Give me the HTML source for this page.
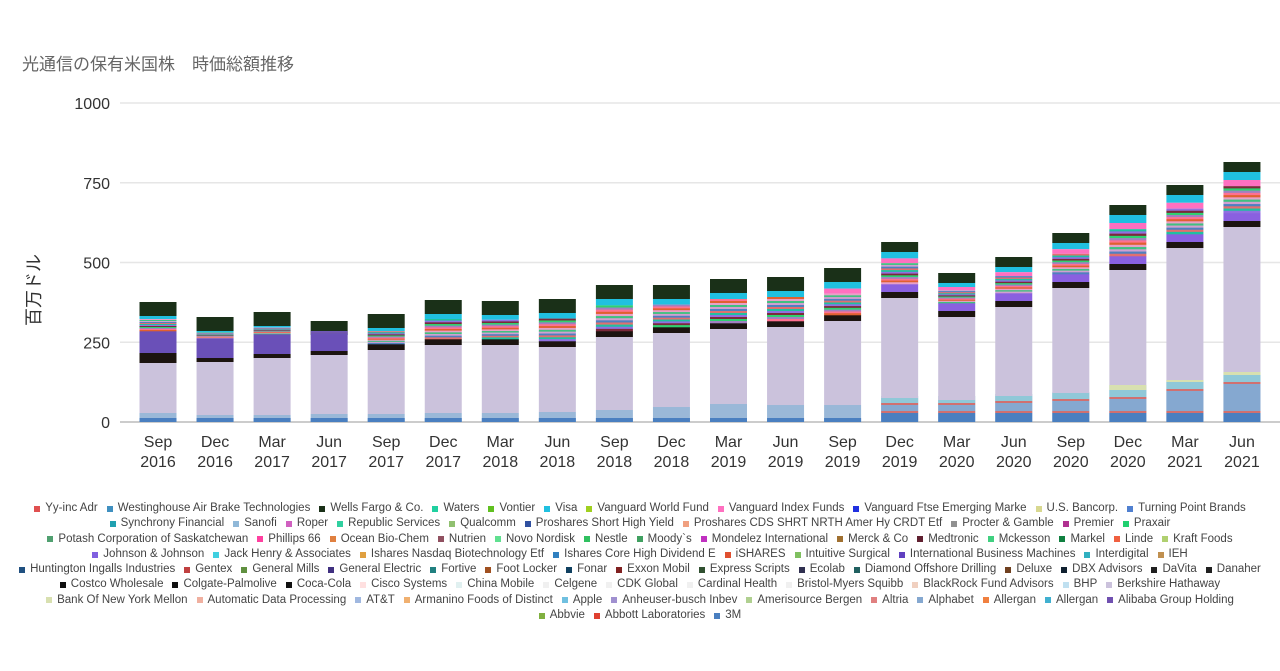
<!DOCTYPE html>
<html><head><meta charset="utf-8"><style>
body{margin:0;width:1280px;height:671px;background:#fff;font-family:"Liberation Sans","Noto Sans CJK JP",sans-serif;overflow:hidden;position:relative}
#t{position:absolute;left:22px;top:50px;font-size:17px;color:#666}
svg{position:absolute;left:0;top:0}
#lg{position:absolute;left:0;top:501px;width:1280px;font-size:11.5px;color:#444}
.r{display:flex;justify-content:center;height:15.3px;line-height:15.3px;white-space:nowrap}
.i{margin:0 4.5px;display:flex;align-items:center}
.i b{display:inline-block;width:6px;height:6px;margin-right:5px}
</style></head><body>
<div id="t">光通信の保有米国株　時価総額推移</div>
<svg id="s" width="1280" height="671"></svg>
<div id="lg"></div>
<script>
var s=document.getElementById('s'),h='';
var base=422,px=319/1000;
[0,250,500,750,1000].forEach(function(v){var y=base-v*px;
h+='<line x1="120" x2="1280" y1="'+y+'" y2="'+y+'" stroke="'+(v==0?'#ccc':'#e6e6e6')+'" stroke-width="'+(v==0?2:1.5)+'"/>';
h+='<text x="110" y="'+(y+6)+'" text-anchor="end" font-size="16" fill="#333">'+v+'</text>';});
h+='<text transform="translate(40,290) rotate(-90)" text-anchor="middle" font-size="18" fill="#333">百万ドル</text>';
var labs=['Sep 2016','Dec 2016','Mar 2017','Jun 2017','Sep 2017','Dec 2017','Mar 2018','Jun 2018','Sep 2018','Dec 2018','Mar 2019','Jun 2019','Sep 2019','Dec 2019','Mar 2020','Jun 2020','Sep 2020','Dec 2020','Mar 2021','Jun 2021'];
var top_=[302,317,312,321,314,300,301,299,285,285,279,277,268,242,273,257,233,205,185,162];
var bT=[363,362,358,355,350,345,345,347,337,333,329,327,321,298,317,307,288,270,248,227];
var bB=[413,415,415,414,414,413,413,412,410,407,404,405,405,398,400,396,393,385,380,372];
var alph=[0,0,0,0,0,0,0,0,0,0,0,0,0,6,6,8,10,12,20,27];
var stripes=['#e8a0c8','#40c080','#d0a0d0','#5080c0','#e07070','#20c0a0','#9070e0','#7a2a3a','#30d070','#a080c0','#ff7090','#e06030'];
for(var i=0;i<20;i++){
 var cx=158+i*57.05,x=cx-18.5,w=37;
 function R(y1,y2,c){if(y2>y1)h+='<rect x="'+x+'" y="'+y1+'" width="'+w+'" height="'+(y2-y1)+'" fill="'+c+'"/>';}
 var b1=bB[i];
 R(b1,base,'#9ab8d8');
 var a=base-(i>=13?9:4);R(a,base,'#4a7fc0');
 if(i>=13){R(a-2,a,'#d07070');var al=a-2-alph[i];R(al,a-2,'#85a8d0');R(al-2,al,'#d07070');R(al-9,al-2,'#90c8d8');R(b1,al-9,'#d8e0b0');}
 R(bT[i],b1,'#cbc2dc');
 var T=top_[i],g=(i<13?14:10);
 R(T,T+g,'#1a3018');
 var y=T+g;
 var early=i<4;
 var blk=early?(i==0?10:4):6;
 R(bT[i]-blk,bT[i],'#1c1410');
 var pur=early?(i==0?22:20):(i>=13?8:0);
 var pc=early?'#6a50b8':'#8a60e0';
 R(bT[i]-blk-pur,bT[i]-blk,pc);
 var avail=bT[i]-blk-pur-y;
 var cyan=Math.min(8,avail*0.2);R(y,y+cyan,'#20c0e0');y+=cyan;
 if(i>=12){var pk=Math.min(8,avail*0.15);R(y,y+pk,'#ff70c0');y+=pk;}
 var end=bT[i]-blk-pur,n=stripes.length,st=(end-y)/n;
 for(var k=0;k<n;k++)R(y+k*st,y+(k+1)*st+0.3,stripes[(k+i)%n]);
 var L=labs[i].split(' ');
 h+='<text x="'+cx+'" y="447" text-anchor="middle" font-size="16" fill="#333">'+L[0]+'</text><text x="'+cx+'" y="467" text-anchor="middle" font-size="16" fill="#333">'+L[1]+'</text>';
}
s.innerHTML=h;
var rows=[
['Yy-inc Adr','Westinghouse Air Brake Technologies','Wells Fargo & Co.','Waters','Vontier','Visa','Vanguard World Fund','Vanguard Index Funds','Vanguard Ftse Emerging Marke','U.S. Bancorp.','Turning Point Brands'],
['Synchrony Financial','Sanofi','Roper','Republic Services','Qualcomm','Proshares Short High Yield','Proshares CDS SHRT NRTH Amer Hy CRDT Etf','Procter & Gamble','Premier','Praxair'],
['Potash Corporation of Saskatchewan','Phillips 66','Ocean Bio-Chem','Nutrien','Novo Nordisk','Nestle','Moody`s','Mondelez International','Merck & Co','Medtronic','Mckesson','Markel','Linde','Kraft Foods'],
['Johnson & Johnson','Jack Henry & Associates','Ishares Nasdaq Biotechnology Etf','Ishares Core High Dividend E','iSHARES','Intuitive Surgical','International Business Machines','Interdigital','IEH'],
['Huntington Ingalls Industries','Gentex','General Mills','General Electric','Fortive','Foot Locker','Fonar','Exxon Mobil','Express Scripts','Ecolab','Diamond Offshore Drilling','Deluxe','DBX Advisors','DaVita','Danaher'],
['Costco Wholesale','Colgate-Palmolive','Coca-Cola','Cisco Systems','China Mobile','Celgene','CDK Global','Cardinal Health','Bristol-Myers Squibb','BlackRock Fund Advisors','BHP','Berkshire Hathaway'],
['Bank Of New York Mellon','Automatic Data Processing','AT&T','Armanino Foods of Distinct','Apple','Anheuser-busch Inbev','Amerisource Bergen','Altria','Alphabet','Allergan','Allergan','Alibaba Group Holding'],
['Abbvie','Abbott Laboratories','3M']];
var cols=['#e05050','#4090c0','#1a3018','#20d0a0','#60c020','#20c0e0','#a0d020','#ff70c0','#2030e0','#d8d890','#5080d0','#20a0b0','#90b8d8','#d060c0','#30d0a0','#90c070','#3050a0','#f0a080','#909090','#b03090','#20d070','#50a070','#ff40a0','#e08040','#905060','#60e090','#30c060','#40a060','#c030c0','#a07030','#602030','#40d080','#108040','#f06040','#b0d070','#8060e0','#40d0e0','#e0a040','#3080c0','#e05030','#80c060','#6040c0','#30b0c0','#c09050','#205080','#c04040','#609040','#403080','#208080','#a05020','#104060','#802020','#305030','#303050','#206060','#704020','#102030','#202020','#202020','#101010','#101010','#101010','#ffe0e0','#e0f0f0','#f0f0f0','#f0f0f0','#f0f0f0','#f0f0f0','#f0d0c0','#c0e0f0','#cbc2dc','#d8e0b0','#f0b0a0','#a0b8e0','#f0b070','#70c0e0','#a090d0','#b0d090','#e08080','#85a8d0','#f08040','#40b0d0','#7050b0','#80b040','#e04030','#4a7fc0'];
var lg='',c=0;rows.forEach(function(r){lg+='<div class="r">';r.forEach(function(n){lg+='<span class="i"><b style="background:'+cols[c++%cols.length]+'"></b>'+n.replace(/&/g,'&amp;')+'</span>';});lg+='</div>';});
document.getElementById('lg').innerHTML=lg;
</script>
</body></html>
